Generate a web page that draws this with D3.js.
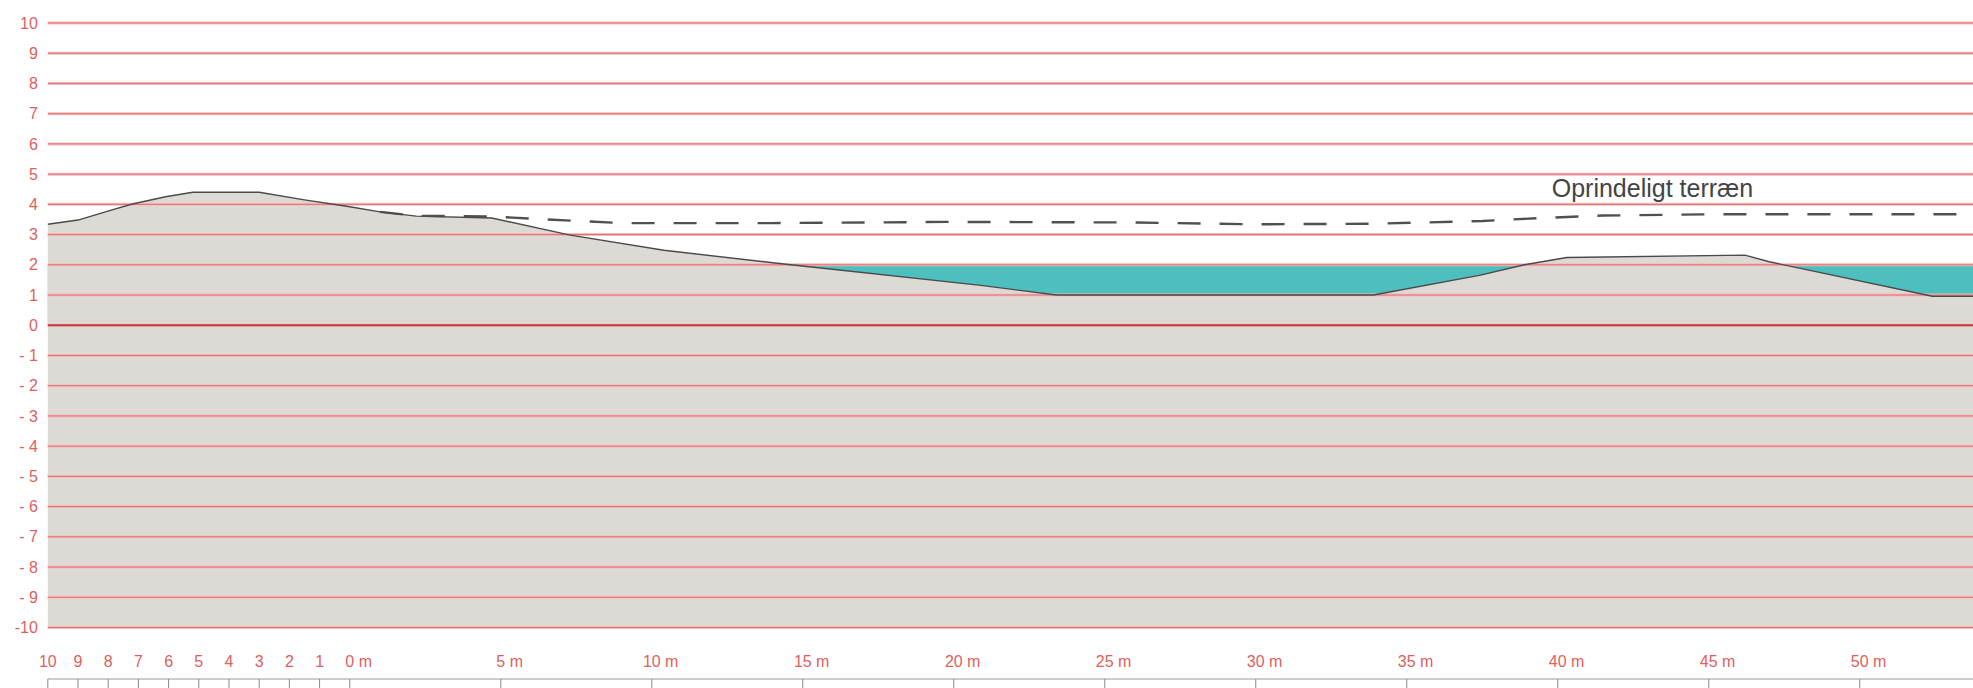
<!DOCTYPE html>
<html>
<head>
<meta charset="utf-8">
<script src="https://cdn.jsdelivr.net/npm/d3@7"></script>
<style>
  body { margin: 0; background: #fff; overflow: hidden; }
  svg { display: block; font-family: "Liberation Sans Narrow", "Liberation Sans", Arial, sans-serif; }
</style>
</head>
<body>
<div id="profile"></div>
<script>
// terrain profile: distance (m) and level (m)
const terrainX = [-10, -9, -7.9, -7.2, -6.1, -5.2, -3.0, -1.5, 0, 1.0, 2.2, 4.7, 7.3, 10.4, 14.6, 20.9, 23.4, 33.9, 37.4, 38.9, 40.3, 46.2, 47.0, 52.4, 53.75];
const terrainY = [3.34, 3.48, 3.81, 4.01, 4.25, 4.4, 4.4, 4.15, 3.92, 3.75, 3.61, 3.55, 2.98, 2.48, 2.0, 1.32, 1.0, 1.0, 1.65, 2.0, 2.24, 2.32, 2.1, 0.96, 0.96];

// original terrain (dashed)
const origX = [1.0, 2.2, 4.7, 6.5, 9, 14, 20, 26, 30, 34, 37.5, 39.5, 41.5, 45, 53.75];
const origY = [3.75, 3.62, 3.6, 3.5, 3.38, 3.38, 3.42, 3.4, 3.34, 3.36, 3.45, 3.55, 3.63, 3.67, 3.67];

const waterLevel = 2;

// axis ticks
const yTicks = [10, 9, 8, 7, 6, 5, 4, 3, 2, 1, 0, -1, -2, -3, -4, -5, -6, -7, -8, -9, -10];
const yTickLabels = ["10", "9", "8", "7", "6", "5", "4", "3", "2", "1", "0", "- 1", "- 2", "- 3", "- 4", "- 5", "- 6", "- 7", "- 8", "- 9", "-10"];
const xTicks = [-10, -9, -8, -7, -6, -5, -4, -3, -2, -1, 0, 5, 10, 15, 20, 25, 30, 35, 40, 45, 50];
const xTickLabels = ["10", "9", "8", "7", "6", "5", "4", "3", "2", "1", "0", "5", "10", "15", "20", "25", "30", "35", "40", "45", "50"];

const annotation = "Oprindeligt terræn";
const annotationAt = [39.8, 4.24];

const W = 1973, H = 688;

const svg = d3.select("#profile")
  .append("svg")
  .attr("width", W)
  .attr("height", H);

const x = d3.scaleLinear().domain([-10, 53.75]).range([47.8, 1973]);
const y = d3.scaleLinear().domain([-10, 10]).range([627.5, 23]);

const terrain = terrainX.map((d, i) => [d, terrainY[i]]);
const orig = origX.map((d, i) => [d, origY[i]]);

// water body, ground drawn over it
svg.append("rect")
  .attr("x", x(terrainX[0]))
  .attr("y", y(waterLevel))
  .attr("width", x(53.75) - x(terrainX[0]))
  .attr("height", y(0) - y(waterLevel))
  .attr("fill", "#4dbfbf");

const ground = d3.area()
  .x(d => x(d[0]))
  .y0(y(-10))
  .y1(d => y(d[1]));

svg.append("path")
  .datum(terrain)
  .attr("d", ground)
  .attr("fill", "#dddad5");

// grid lines
const grid = svg.append("g");
grid.selectAll("line.halo")
  .data(yTicks)
  .enter()
  .append("line")
  .attr("x1", x(-10))
  .attr("x2", W)
  .attr("y1", d => y(d))
  .attr("y2", d => y(d))
  .attr("stroke", "#f3bcbc")
  .attr("stroke-width", 3);
grid.selectAll("line.core")
  .data(yTicks)
  .enter()
  .append("line")
  .attr("x1", x(-10))
  .attr("x2", W)
  .attr("y1", d => y(d))
  .attr("y2", d => y(d))
  .attr("stroke", d => d === 0 ? "#bf3a3a" : "#de6f6f")
  .attr("stroke-width", d => d === 0 ? 1.8 : 1);

// y labels
const yAxis = svg.append("g")
  .attr("transform", `translate(${x(-10) - 10},0)`)
  .call(d3.axisLeft(y).tickValues(yTicks).tickSize(0).tickPadding(0)
    .tickFormat((d, i) => yTickLabels[i]));
yAxis.select(".domain").remove();
yAxis.selectAll("text")
  .attr("fill", "#e0605c")
  .style("font-size", "16px");

// terrain lines
const line = d3.line().x(d => x(d[0])).y(d => y(d[1]));

svg.append("path")
  .datum(orig)
  .attr("d", line)
  .attr("fill", "none")
  .attr("stroke", "#505050")
  .attr("stroke-width", 2.4)
  .attr("stroke-dasharray", "23,19");

svg.append("path")
  .datum(terrain)
  .attr("d", line)
  .attr("fill", "none")
  .attr("stroke", "#4a4a4a")
  .attr("stroke-width", 1.4);

svg.append("text")
  .attr("x", x(annotationAt[0]))
  .attr("y", y(annotationAt[1]))
  .attr("fill", "#444")
  .style("font-family", "'Liberation Sans', Arial, sans-serif")
  .style("font-size", "25px")
  .text(annotation);

// distance ruler
const ruler = svg.append("g")
  .attr("transform", "translate(0,679)");
ruler.append("line")
  .attr("x1", x(-10))
  .attr("x2", W)
  .attr("stroke", "#9a9a9a")
  .attr("stroke-width", 1.2);
ruler.selectAll("line.tick")
  .data(xTicks)
  .enter()
  .append("line")
  .attr("x1", d => x(d))
  .attr("x2", d => x(d))
  .attr("y1", 0)
  .attr("y2", 12)
  .attr("stroke", "#8a8a8a")
  .attr("stroke-width", 1);

const labels = svg.append("g")
  .selectAll("text")
  .data(xTicks)
  .enter()
  .append("text")
  .attr("y", 667)
  .attr("fill", "#e0605c")
  .style("font-size", "16px");
labels.append("tspan").attr("class", "num").text((d, i) => xTickLabels[i]);
labels.filter(d => d >= 0).append("tspan").text(" m");
labels.each(function(d) {
  const w = d3.select(this).select(".num").node().getComputedTextLength();
  d3.select(this).attr("x", x(d) - w / 2);
});
</script>
</body>
</html>
